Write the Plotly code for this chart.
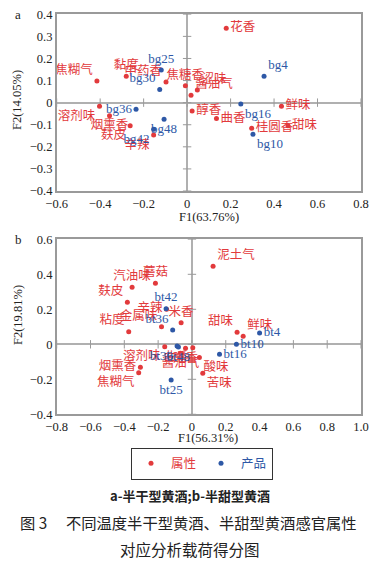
import plotly.graph_objects as go

# ---------------- data: panel a (半干型) ----------------
a_attr_names = ["花香", "焦糊气", "黏度", "中药香", "焦糖香", "涩味", "酱油气", "溶剂味",
                "烟熏香", "麸皮", "辛辣", "醇香", "曲香", "鲜味", "桂圆香", "甜味"]
a_attr_x = [0.180, -0.415, -0.280, -0.097, -0.008, 0.047, 0.018, -0.403,
            -0.357, -0.262, -0.154, 0.023, 0.135, 0.434, 0.297, 0.464]
a_attr_y = [0.337, 0.098, 0.120, 0.094, 0.076, 0.057, 0.033, -0.016,
            -0.059, -0.105, -0.147, -0.038, -0.072, -0.016, -0.116, -0.105]

a_prod_names = ["bg4", "bg10", "bg16", "bg25", "bg30", "bg36", "bg42", "bg48"]
a_prod_x = [0.354, 0.303, 0.247, -0.119, -0.126, -0.235, -0.154, -0.106]
a_prod_y = [0.120, -0.143, -0.006, 0.148, 0.060, -0.030, -0.120, -0.075]

# ---------------- data: panel b (半甜型) ----------------
b_attr_names = ["泥土气", "汽油味", "蘑菇", "麸皮", "粘度", "辛辣", "金属味", "米香",
                "甜味", "鲜味", "酸味", "苦味", "烟熏香", "焦糊气", "溶剂味", "酱油气",
                "醇香", "曲香"]
b_attr_x = [0.125, -0.354, -0.216, -0.382, -0.374, -0.150, -0.180, -0.064,
            0.267, 0.303, 0.044, 0.064, -0.305, -0.315, -0.161, -0.068,
            -0.038, 0.005]
b_attr_y = [0.446, 0.326, 0.349, 0.240, 0.072, 0.200, 0.100, 0.123,
            0.069, 0.046, -0.076, -0.166, -0.131, -0.162, -0.014, -0.051,
            -0.023, -0.020]

b_prod_names = ["bt4", "bt10", "bt16", "bt25", "bt30", "bt36", "bt42", "bt48"]
b_prod_x = [0.400, 0.263, 0.163, -0.123, -0.088, -0.114, -0.153, -0.080]
b_prod_y = [0.065, 0.000, -0.057, -0.204, -0.010, 0.082, 0.203, -0.015]

a_xticks = [-0.6, -0.4, -0.2, 0, 0.2, 0.4, 0.6, 0.8]
a_xticktext = ["−0.6", "−0.4", "−0.2", "0", "0.2", "0.4", "0.6", "0.8"]
a_yticks = [-0.4, -0.3, -0.2, -0.1, 0, 0.1, 0.2, 0.3, 0.4]
a_yticktext = ["−0.4", "−0.3", "−0.2", "−0.1", "0", "0.1", "0.2", "0.3", "0.4"]
b_xticks = [-0.8, -0.6, -0.4, -0.2, 0, 0.2, 0.4, 0.6, 0.8, 1.0]
b_xticktext = ["−0.8", "−0.6", "−0.4", "−0.2", "0", "0.2", "0.4", "0.6", "0.8", "1.0"]
b_yticks = [-0.4, -0.2, 0, 0.2, 0.4, 0.6]
b_yticktext = ["−0.4", "−0.2", "0", "0.2", "0.4", "0.6"]

# ---------------- styles ----------------
RED = "#e23a3c"
BLUE = "#2e58a6"
CJK = "Noto Sans CJK SC"
SERIF = "Liberation Serif, Noto Sans CJK SC"

a_attr_pos = ["middle right", "top left", "top center", "top left", "top center", "top right",
              "top right", "bottom left", "bottom center", "bottom left", "bottom left",
              "middle right", "middle right", "middle right", "middle right", "middle right"]
a_prod_pos = ["top right", "bottom right", "bottom right", "top center", "top left",
              "middle left", "bottom left", "bottom center"]
b_attr_pos = ["top right", "top center", "top center", "top left", "top left", "middle left",
              "top left", "top center", "top left", "top right", "bottom right", "bottom right",
              "middle left", "bottom left", "bottom left", "bottom center", "bottom center",
              "bottom left"]
b_prod_pos = ["middle right", "middle right", "middle right", "bottom center", "bottom left",
              "top left", "top center", "bottom center"]

fig = go.Figure()


def add_panel(xa, ya, attr_n, attr_x, attr_y, attr_pos, prod_n, prod_x, prod_y, prod_pos,
              xticks, yticks, legend):
    # tick marks along the zero lines
    fig.add_trace(go.Scatter(x=xticks, y=[0] * len(xticks), mode="markers",
                             marker=dict(symbol="line-ns", size=6,
                                         line=dict(color="#9a9a9a", width=1)),
                             xaxis=xa, yaxis=ya, showlegend=False, hoverinfo="skip"))
    fig.add_trace(go.Scatter(x=[0] * len(yticks), y=yticks, mode="markers",
                             marker=dict(symbol="line-ew", size=6,
                                         line=dict(color="#9a9a9a", width=1)),
                             xaxis=xa, yaxis=ya, showlegend=False, hoverinfo="skip"))
    fig.add_trace(go.Scatter(x=attr_x, y=attr_y, text=attr_n, mode="markers+text",
                             textposition=attr_pos,
                             textfont=dict(family=CJK, size=12.5, color=RED),
                             marker=dict(color=RED, size=5),
                             name="<span style='color:%s'>属性</span>" % RED,
                             legendgroup="attr", showlegend=legend,
                             xaxis=xa, yaxis=ya, cliponaxis=False))
    fig.add_trace(go.Scatter(x=prod_x, y=prod_y, text=prod_n, mode="markers+text",
                             textposition=prod_pos,
                             textfont=dict(family="Liberation Serif", size=13, color=BLUE),
                             marker=dict(color=BLUE, size=5),
                             name="<span style='color:%s'>产品</span>" % BLUE,
                             legendgroup="prod", showlegend=legend,
                             xaxis=xa, yaxis=ya, cliponaxis=False))


add_panel("x", "y", a_attr_names, a_attr_x, a_attr_y, a_attr_pos,
          a_prod_names, a_prod_x, a_prod_y, a_prod_pos, a_xticks, a_yticks, False)
add_panel("x2", "y2", b_attr_names, b_attr_x, b_attr_y, b_attr_pos,
          b_prod_names, b_prod_x, b_prod_y, b_prod_pos, b_xticks, b_yticks, True)

W, H = 381, 562
xdom = [56.7 / W, 361 / W]

axis_common = dict(showgrid=False, zeroline=True, zerolinecolor="#b0b0b0", zerolinewidth=1.5,
                   showline=True, linecolor="#9a9a9a", linewidth=1.5, mirror=True,
                   ticks="", tickfont=dict(family="Liberation Serif", size=12.5, color="#222"),
                   fixedrange=True, automargin=False)

fig.update_layout(
    width=W, height=H,
    margin=dict(l=0, r=0, t=0, b=0, autoexpand=False),
    paper_bgcolor="white", plot_bgcolor="white",
    xaxis=dict(domain=xdom, range=[-0.6, 0.8], tickvals=a_xticks, ticktext=a_xticktext,
               anchor="y", **axis_common),
    yaxis=dict(domain=[1 - 191 / H, 1 - 14.3 / H], range=[-0.4, 0.4], tickvals=a_yticks,
               ticktext=a_yticktext, anchor="x", **axis_common),
    xaxis2=dict(domain=xdom, range=[-0.8, 1.0], tickvals=b_xticks, ticktext=b_xticktext,
                anchor="y2", **axis_common),
    yaxis2=dict(domain=[1 - 414.3 / H, 1 - 239.3 / H], range=[-0.4, 0.6], tickvals=b_yticks,
                ticktext=b_yticktext, anchor="x2", **axis_common),
    showlegend=True,
    legend=dict(orientation="h", x=202 / W, xanchor="center", y=1 - 463.5 / H, yanchor="middle",
                bordercolor="#333", borderwidth=1, bgcolor="white",
                font=dict(family=CJK, size=12.5), tracegroupgap=0),
)

ann = []


def txt(x, y, s, size=12.5, family=SERIF, angle=0, xanchor="center", color="#222"):
    ann.append(dict(x=x / W, y=1 - y / H, xref="paper", yref="paper", text=s, showarrow=False,
                    font=dict(family=family, size=size, color=color), textangle=angle,
                    xanchor=xanchor, yanchor="middle"))


txt(18, 14, "a", size=13)
txt(18, 239, "b", size=13)
txt(209, 216.7, "F1(63.76%)")
txt(208, 438, "F1(56.31%)")
txt(17, 100, "F2(14.05%)", angle=-90)
txt(18, 315, "F2(19.81%)", angle=-90)
txt(190, 495, "<b>a-半干型黄酒;b-半甜型黄酒</b>", size=13, family=CJK)
txt(18, 522, "图 3\u3000 不同温度半干型黄酒、半甜型黄酒感官属性", size=15.3, family=CJK, xanchor="left")
txt(190, 549, "对应分析载荷得分图", size=15.5, family=CJK)
fig.update_layout(annotations=ann)

fig.write_html("out.html", config={"displayModeBar": False},
               post_script="document.body.style.margin='0';")
